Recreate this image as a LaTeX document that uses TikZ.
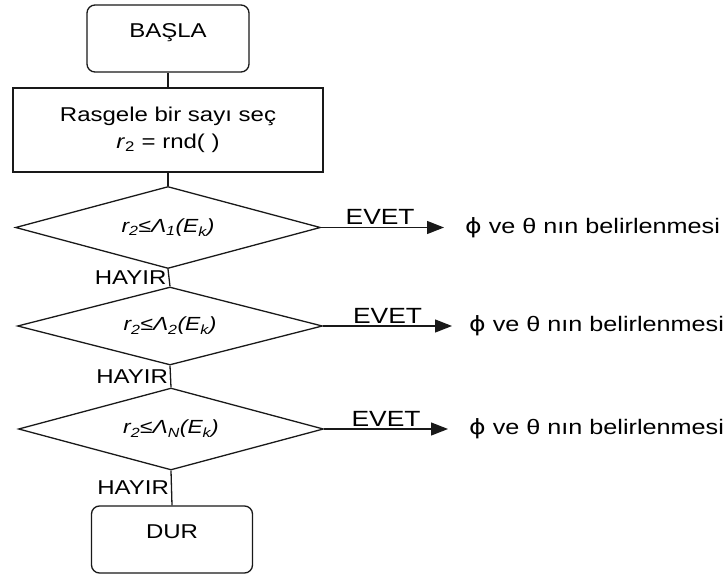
\documentclass[tikz,border=0pt]{standalone}
\usepackage{fontspec}
\setmainfont{Liberation Sans}[FakeStretch=1.2]
\newfontfamily\phifont{DejaVu Sans}[FakeStretch=1.2]
\usetikzlibrary{shapes.geometric,arrows.meta}
\tikzset{
  base/.style={line width=1.3pt, draw=black!90},
  termbox/.style={base, rounded corners=8pt, minimum width=162pt, minimum height=67pt, inner sep=0pt, text height=15pt, text depth=17pt},
  procbox/.style={base, minimum width=310pt, minimum height=84pt, align=center, font=\fontsize{20}{27}\selectfont},
  decision/.style={base, diamond, aspect=3.7, inner sep=0pt, minimum width=305pt, minimum height=82pt, font=\fontsize{19}{22}\selectfont\itshape},
  result/.style={anchor=west, inner sep=0pt, font=\fontsize{21}{24}\selectfont},
  link/.style={base},
  yesarrow/.style={base, -{Triangle[length=17pt,width=13pt]}},
  lbl/.style={inner sep=2pt},
  yeslbl/.style={inner sep=2pt, font=\fontsize{22}{24}\selectfont}
}
\begin{document}
\begin{tikzpicture}[x=1pt,y=-1pt,font=\fontsize{20}{24}\selectfont]
\useasboundingbox (0,0) rectangle (724,576);
\node[termbox] (start) at (168,38.5) {BAŞLA};
\node[procbox] (proc) at (168,130) {Rasgele bir sayı seç\\ \textit{r}\textsubscript{2} = rnd(\ )};
\node[decision] (d1) at (168,227.5) {r\textsubscript{2}≤Λ\textsubscript{1}(E\textsubscript{k})};
\node[decision, minimum height=78pt] (d2) at (170,326) {r\textsubscript{2}≤Λ\textsubscript{2}(E\textsubscript{k})};
\node[decision] (d3) at (171,429) {r\textsubscript{2}≤Λ\textsubscript{N}(E\textsubscript{k})};
\node[termbox, minimum width=161pt] (stop) at (172,539.5) {DUR};

\node[result] (r1) at (465,227.5) {{\phifont ϕ} ve θ nın belirlenmesi};
\node[result] (r2) at (469,326) {{\phifont ϕ} ve θ nın belirlenmesi};
\node[result] (r3) at (469,429) {{\phifont ϕ} ve θ nın belirlenmesi};

\draw[link] (start) -- (proc);
\draw[link] (proc) -- (d1);
\draw[link] (d1.south) -- node[left, lbl]{HAYIR} (d2.north);
\draw[link] (d2.south) -- node[left, lbl]{HAYIR} (d3.north);
\draw[link] (d3.south) -- node[left, lbl]{HAYIR} (stop.north);

\draw[yesarrow] (d1.east) -- node[above, yeslbl, pos=0.48]{EVET} ([xshift=-21pt]r1.west);
\draw[yesarrow] (d2.east) -- node[above, yeslbl, pos=0.5]{EVET} ([xshift=-17pt]r2.west);
\draw[yesarrow] (d3.east) -- node[above, yeslbl, pos=0.5]{EVET} ([xshift=-21pt]r3.west);
\end{tikzpicture}
\end{document}
